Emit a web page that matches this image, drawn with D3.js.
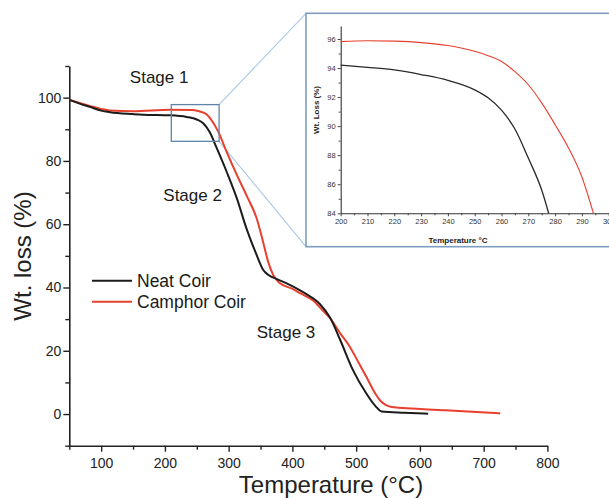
<!DOCTYPE html>
<html>
<head>
<meta charset="utf-8">
<script src="https://cdn.jsdelivr.net/npm/d3@7"></script>
<style>
  body { margin: 0; background: #fff; }
  svg { display: block; }
  text { font-family: "Liberation Sans", Arial, sans-serif; }
</style>
</head>
<body>
<script>
// main TGA curves (temperature in °C, weight %)
var tempNeat = [50, 65, 82, 100, 114, 150, 166, 208, 234, 250, 260, 270, 281, 297, 313, 328, 344, 354, 362, 375, 391, 412, 422, 443, 459, 475, 495, 516, 530, 540, 575, 613];
var lossNeat = [99.3, 98.2, 97.1, 95.9, 95.4, 94.8, 94.6, 94.4, 93.9, 93.1, 91.9, 89.2, 84.2, 76.5, 68.1, 58.6, 50.2, 45.6, 44.0, 42.7, 41.3, 39.1, 37.9, 34.8, 30.5, 23.4, 13.9, 6.5, 2.6, 0.8, 0.4, 0.1];

var tempCamphor = [50, 65, 82, 100, 114, 150, 208, 244, 255, 266, 276, 284, 297, 313, 328, 344, 354, 362, 370, 380, 401, 412, 433, 448, 459, 475, 490, 505, 516, 530, 538, 547, 556, 640, 726];
var lossCamphor = [99.3, 98.4, 97.4, 96.4, 95.9, 95.7, 96.2, 96.1, 95.6, 94.6, 92.0, 89.1, 82.8, 75.5, 69.1, 61.8, 54.4, 48.1, 43.9, 41.4, 39.5, 38.2, 35.8, 32.6, 30.3, 25.5, 21.3, 15.8, 11.8, 6.5, 4.2, 2.8, 2.2, 1.2, 0.2];

// inset (zoom 200-300 °C)
var insetTempNeat = [200, 210, 220, 230, 240, 250, 255, 260, 265, 270, 275, 277.6];
var insetLossNeat = [94.2, 94.05, 93.87, 93.55, 93.15, 92.5, 91.95, 91.1, 89.8, 87.8, 85.6, 84.0];
var insetTempCamphor = [200, 210, 220, 230, 240, 250, 255, 260, 265, 270, 275, 280, 285, 290, 294.3];
var insetLossCamphor = [95.82, 95.88, 95.85, 95.75, 95.55, 95.15, 94.85, 94.45, 93.75, 92.85, 91.6, 90.1, 88.5, 86.5, 84.0];

var xTicks = [100, 200, 300, 400, 500, 600, 700, 800];
var xMinorTicks = [50, 150, 250, 350, 450, 550, 650, 750];
var yTicks = [0, 20, 40, 60, 80, 100];
var yMinorTicks = [-10, 10, 30, 50, 70, 90, 110];
var insetXTicks = [200, 210, 220, 230, 240, 250, 260, 270, 280, 290, 300];
var insetXMinor = [205, 215, 225, 235, 245, 255, 265, 275, 285, 295];
var insetYTicks = [84, 86, 88, 90, 92, 94, 96];
var insetYMinor = [85, 87, 89, 91, 93, 95];

var seriesNames = ["Neat Coir", "Camphor Coir"];
var seriesColors = ["#1c1c1c", "#e8402f"];
var stageLabels = ["Stage 1", "Stage 2", "Stage 3"];

var width = 609, height = 499;

var svg = d3.select("body").append("svg")
    .attr("width", width)
    .attr("height", height);

var x = d3.scaleLinear().domain([50, 800]).range([69.3, 547.4]);
var y = d3.scaleLinear().domain([-10, 110]).range([445.7, 66]);

// axes
svg.append("g")
    .attr("transform", "translate(0," + y(-10) + ")")
    .call(d3.axisBottom(x).tickValues(xTicks).tickSize(6).tickPadding(6).tickSizeOuter(0));
svg.append("g")
    .attr("transform", "translate(0," + y(-10) + ")")
    .call(d3.axisBottom(x).tickValues(xMinorTicks).tickSize(4).tickFormat("").tickSizeOuter(0))
    .select(".domain").remove();

svg.append("g")
    .attr("transform", "translate(" + x(50) + ",0)")
    .call(d3.axisLeft(y).tickValues(yTicks).tickSize(6).tickPadding(2).tickSizeOuter(0));
svg.append("g")
    .attr("transform", "translate(" + x(50) + ",0)")
    .call(d3.axisLeft(y).tickValues(yMinorTicks).tickSize(4).tickFormat("").tickSizeOuter(0))
    .select(".domain").remove();

svg.selectAll(".domain").attr("stroke", "#222").attr("stroke-width", 1.6);
svg.selectAll(".tick line").attr("stroke", "#222").attr("stroke-width", 1.4);
svg.selectAll(".tick text")
    .attr("font-size", 14)
    .attr("fill", "#222")
    .style("font-family", "'Liberation Sans', Arial, sans-serif");

// axis titles
svg.append("text")
    .attr("x", 331)
    .attr("y", 493)
    .attr("text-anchor", "middle")
    .attr("font-size", 24)
    .attr("fill", "#222")
    .text("Temperature (°C)");

svg.append("text")
    .attr("transform", "translate(31,256) rotate(-90)")
    .attr("text-anchor", "middle")
    .attr("font-size", 24)
    .attr("fill", "#222")
    .text("Wt. loss (%)");

// curves
var line = d3.line()
    .x(function(d) { return x(d[0]); })
    .y(function(d) { return y(d[1]); })
    .curve(d3.curveMonotoneX);

var mainSeries = [
    d3.zip(tempNeat, lossNeat),
    d3.zip(tempCamphor, lossCamphor)
];

// zoom box + connectors
var boxX0 = x(210), boxX1 = x(285), boxY0 = y(97.8), boxY1 = y(86.2);
var insetLeft = 306, insetTop = 13.3, insetBottom = 246.7;

svg.append("line")
    .attr("x1", boxX1).attr("y1", boxY0)
    .attr("x2", insetLeft).attr("y2", insetTop)
    .attr("stroke", "#a9c9e8").attr("stroke-width", 1.1);
svg.append("line")
    .attr("x1", boxX1).attr("y1", boxY1)
    .attr("x2", insetLeft).attr("y2", insetBottom)
    .attr("stroke", "#a9c9e8").attr("stroke-width", 1.1);

// red first so black sits on top where they overlap
svg.selectAll(".series")
    .data([mainSeries[1], mainSeries[0]])
    .enter().append("path")
    .attr("class", "series")
    .attr("d", line)
    .attr("fill", "none")
    .attr("stroke", function(d, i) { return i === 0 ? seriesColors[1] : seriesColors[0]; })
    .attr("stroke-width", 2);

svg.append("rect")
    .attr("x", boxX0).attr("y", boxY0)
    .attr("width", boxX1 - boxX0).attr("height", boxY1 - boxY0)
    .attr("fill", "none")
    .attr("stroke", "#5e84ab").attr("stroke-width", 1.3);

// stage labels
var stagePos = [[145, 104.5], [197.5, 67.3], [344, 24]];
svg.selectAll(".stage")
    .data(stageLabels)
    .enter().append("text")
    .attr("class", "stage")
    .attr("x", function(d, i) { return x(stagePos[i][0]); })
    .attr("y", function(d, i) { return y(stagePos[i][1]); })
    .attr("font-size", 17)
    .attr("fill", "#1a1a1a")
    .text(function(d) { return d; });

// legend
var legend = svg.selectAll(".legend")
    .data(seriesNames)
    .enter().append("g")
    .attr("class", "legend")
    .attr("transform", function(d, i) { return "translate(92," + (280.7 + i * 21) + ")"; });
legend.append("line")
    .attr("x1", 0).attr("x2", 40)
    .attr("stroke", function(d, i) { return seriesColors[i]; })
    .attr("stroke-width", 2);
legend.append("text")
    .attr("x", 45)
    .attr("y", 6.3)
    .attr("font-size", 17.5)
    .attr("fill", "#1a1a1a")
    .text(function(d) { return d; });

// ---- inset ----
var inset = svg.append("g").attr("class", "inset");
inset.append("rect")
    .attr("x", insetLeft).attr("y", insetTop)
    .attr("width", 330).attr("height", insetBottom - insetTop)
    .attr("fill", "#fff")
    .attr("stroke", "#7d9dc0").attr("stroke-width", 1.6);

var ix = d3.scaleLinear().domain([200, 300]).range([340.7, 608.7]);
var iy = d3.scaleLinear().domain([84, 96.9]).range([213.3, 25.9]);

inset.append("g")
    .attr("transform", "translate(0," + iy(84) + ")")
    .call(d3.axisBottom(ix).tickValues(insetXTicks).tickSize(3).tickPadding(2).tickSizeOuter(0));
inset.append("g")
    .attr("transform", "translate(0," + iy(84) + ")")
    .call(d3.axisBottom(ix).tickValues(insetXMinor).tickSize(2).tickFormat("").tickSizeOuter(0))
    .select(".domain").remove();
inset.append("g")
    .attr("transform", "translate(" + ix(200) + ",0)")
    .call(d3.axisLeft(iy).tickValues(insetYTicks).tickSize(3).tickPadding(2).tickSizeOuter(0));
inset.append("g")
    .attr("transform", "translate(" + ix(200) + ",0)")
    .call(d3.axisLeft(iy).tickValues(insetYMinor).tickSize(2).tickFormat("").tickSizeOuter(0))
    .select(".domain").remove();

inset.selectAll(".domain").attr("stroke", "#333").attr("stroke-width", 1.1);
inset.selectAll(".tick line").attr("stroke", "#333").attr("stroke-width", 0.9);
inset.selectAll(".tick text")
    .attr("font-size", 7.5)
    .attr("fill", "#333")
    .style("font-family", "'Liberation Sans', Arial, sans-serif");

inset.append("text")
    .attr("x", 458)
    .attr("y", 243)
    .attr("text-anchor", "middle")
    .attr("font-size", 8)
    .attr("font-weight", "bold")
    .attr("fill", "#222")
    .text("Temperature °C");

inset.append("text")
    .attr("transform", "translate(319,110) rotate(-90)")
    .attr("text-anchor", "middle")
    .attr("font-size", 8)
    .attr("font-weight", "bold")
    .attr("fill", "#222")
    .text("Wt. Loss (%)");

var iline = d3.line()
    .x(function(d) { return ix(d[0]); })
    .y(function(d) { return iy(d[1]); })
    .curve(d3.curveMonotoneX);

inset.append("path")
    .attr("d", iline(d3.zip(insetTempCamphor, insetLossCamphor)))
    .attr("fill", "none")
    .attr("stroke", seriesColors[1])
    .attr("stroke-width", 1.1);
inset.append("path")
    .attr("d", iline(d3.zip(insetTempNeat, insetLossNeat)))
    .attr("fill", "none")
    .attr("stroke", "#2a2a2a")
    .attr("stroke-width", 1.3);
</script>
</body>
</html>
